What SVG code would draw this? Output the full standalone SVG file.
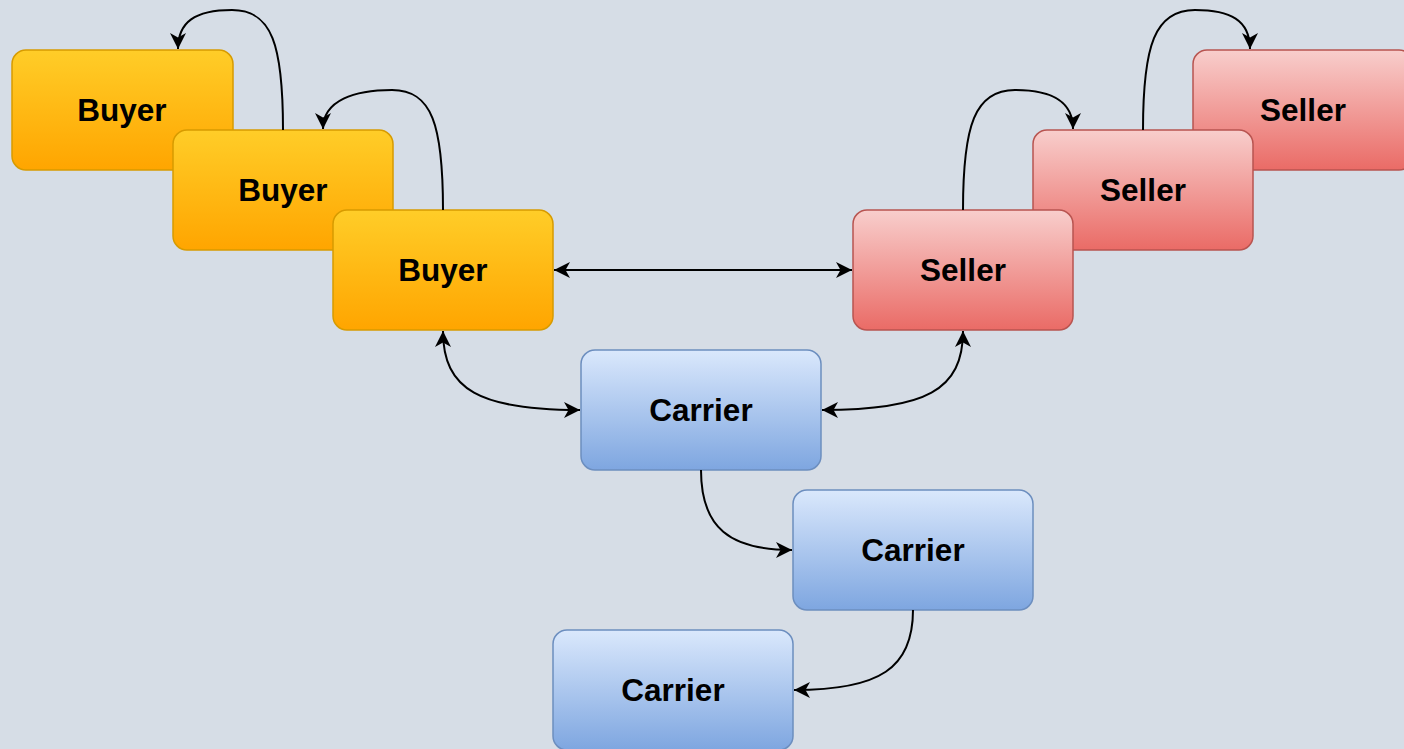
<svg xmlns="http://www.w3.org/2000/svg" width="1404" height="749" viewBox="0 0 1404 749">
<style>
.lbl{font-family:"Liberation Sans",Arial,sans-serif;font-weight:bold;font-size:31.5px;fill:#000;text-anchor:middle}
.buyer{fill:url(#gBuyer);stroke:#d79b00;stroke-width:1.5}
.seller{fill:url(#gSeller);stroke:#b85450;stroke-width:1.5}
.carrier{fill:url(#gCarrier);stroke:#6c8ebf;stroke-width:1.5}
.edge{fill:none;stroke:#000;stroke-width:2}
.one{marker-end:url(#arr)}
.two{marker-start:url(#arr);marker-end:url(#arr)}
</style>
<defs>
<linearGradient id="gBuyer" x1="0" y1="0" x2="0" y2="1"><stop offset="0" stop-color="#ffcd28"/><stop offset="1" stop-color="#ffa500"/></linearGradient>
<linearGradient id="gSeller" x1="0" y1="0" x2="0" y2="1"><stop offset="0" stop-color="#f8cecc"/><stop offset="1" stop-color="#ea6b66"/></linearGradient>
<linearGradient id="gCarrier" x1="0" y1="0" x2="0" y2="1"><stop offset="0" stop-color="#dae8fc"/><stop offset="1" stop-color="#7ea6e0"/></linearGradient>
<marker id="arr" markerUnits="userSpaceOnUse" markerWidth="17" markerHeight="16" viewBox="0 0 17 16" refX="16" refY="8" orient="auto-start-reverse">
<path d="M0,0 L16,8 L0,16 L4.5,8 Z" fill="#000"/>
</marker>
</defs>
<rect width="1404" height="749" fill="#d6dde6"/>
<g id="seller3"><rect class="seller" x="1193" y="50" width="220" height="120" rx="14"/><text class="lbl" x="1303" y="121">Seller</text></g>
<g id="seller2"><rect class="seller" x="1033" y="130" width="220" height="120" rx="14"/><text class="lbl" x="1143" y="201">Seller</text></g>
<g id="seller1"><rect class="seller" x="853" y="210" width="220" height="120" rx="14"/><text class="lbl" x="963" y="281">Seller</text></g>
<g id="buyer1"><rect class="buyer" x="12" y="50" width="221" height="120" rx="14"/><text class="lbl" x="122" y="121">Buyer</text></g>
<g id="buyer2"><rect class="buyer" x="173" y="130" width="220" height="120" rx="14"/><text class="lbl" x="283" y="201">Buyer</text></g>
<g id="buyer3"><rect class="buyer" x="333" y="210" width="220" height="120" rx="14"/><text class="lbl" x="443" y="281">Buyer</text></g>
<g id="carrier1"><rect class="carrier" x="581" y="350" width="240" height="120" rx="14"/><text class="lbl" x="701" y="421">Carrier</text></g>
<g id="carrier2"><rect class="carrier" x="793" y="490" width="240" height="120" rx="14"/><text class="lbl" x="913" y="561">Carrier</text></g>
<g id="carrier3"><rect class="carrier" x="553" y="630" width="240" height="120" rx="14"/><text class="lbl" x="673" y="701">Carrier</text></g>
<g id="connectors">
<path class="edge one" d="M283,130 C283,45 272,10 232,10 C195,10 178,22 178,49"/>
<path class="edge one" d="M443,210 C443,125 432,90 392,90 C355,90 323,100 323,129"/>
<path class="edge one" d="M963,210 C963,125 975,90 1015,90 C1050,90 1073,100 1073,129"/>
<path class="edge one" d="M1143,130 C1143,45 1155,10 1195,10 C1230,10 1250,20 1250,49"/>
<path class="edge two" d="M554,270 L852,270"/>
<path class="edge two" d="M443,331 C443,390 480,410 580,410"/>
<path class="edge two" d="M963,331 C963,390 926,410 822,410"/>
<path class="edge one" d="M701,470 C701,528 730,550 792,550"/>
<path class="edge one" d="M913,610 C913,668 880,690 794,690"/>
</g>
</svg>
